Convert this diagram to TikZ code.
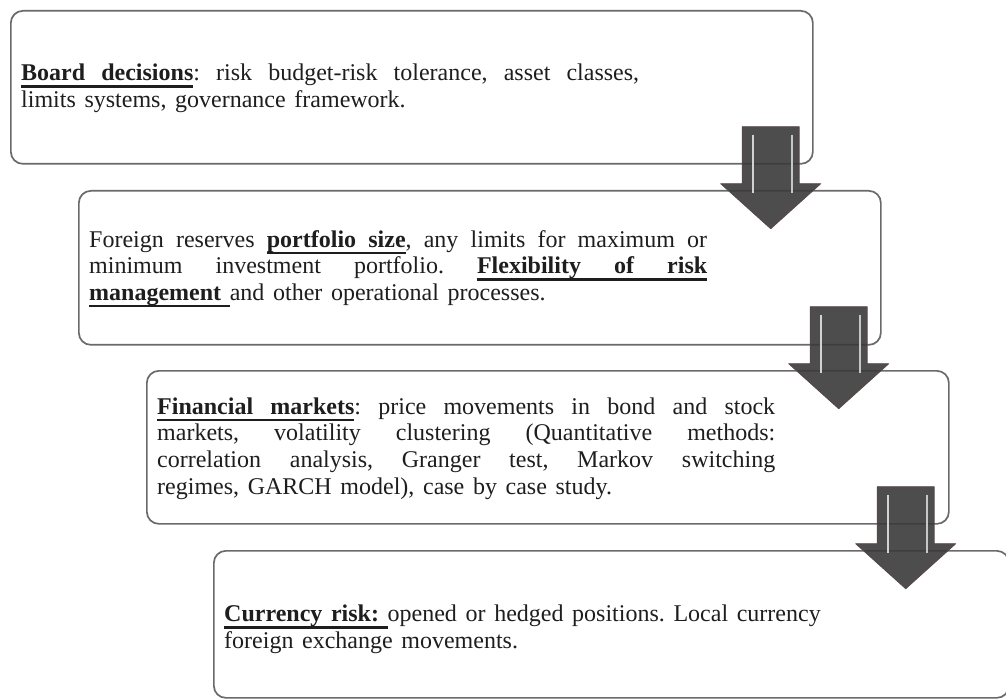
\documentclass[tikz,border=0pt]{standalone}
\usepackage{fontspec}
\setmainfont{Liberation Serif}
\usetikzlibrary{calc}
\definecolor{boxgray}{HTML}{6A6A6A}
\definecolor{arrowdark}{HTML}{3A3A3A}
\definecolor{arrowedge}{HTML}{5A4646}
\definecolor{textdark}{HTML}{1E1E1E}
% underlined word (box) and underlined stretchable space
\newcommand{\ulw}[1]{\setbox0\hbox{#1}\rlap{\rule[-7pt]{\wd0}{2.4pt}}\box0}
\newcommand{\uls}{\leaders\hrule height -4.6pt depth 7pt\hskip\spaceskip\relax}
\newcommand{\bigdownarrow}[1]{%
  \filldraw[fill=arrowdark, draw=arrowedge, line width=0.8pt, fill opacity=0.9, line join=round]
    (#1) ++(-28.5,0) -- ++(57,0) -- ++(0,57) -- ++(21.5,0) -- ++(-50,45) -- ++(-50,-45) -- ++(21.5,0) -- cycle;
  \draw[white!65!gray, line width=2pt] (#1) ++(-18,8) -- ++(0,58);
  \draw[white!55!gray, line width=1.6pt] (#1) ++(21,8) -- ++(0,58);
}
\newcommand{\txtsetup}{\hyphenpenalty=10000\exhyphenpenalty=10000\frenchspacing
  \spaceskip=0.36em plus 0.6em minus 0.06em\relax}
\tikzset{
  panel/.style={draw=boxgray, line width=1.7pt, rounded corners=12pt, fill=white,
    minimum width=802pt, minimum height=153pt, anchor=north west, inner sep=0pt},
  txt/.style={text width=618pt, align=justify, inner sep=0pt, anchor=west,
    font=\fontsize{24}{26.7}\selectfont, text=textdark}
}
\begin{document}
\begin{tikzpicture}[x=1pt, y=-1pt]
\useasboundingbox (0,0) rectangle (1006,700);
\fill[white] (0,0) rectangle (1006,700);
% boxes
\node[panel] (b1) at (10,10) {};
\node[panel, minimum height=154pt] (b2) at (78,190) {};
\node[panel] (b3) at (146,370) {};
\node[panel, minimum height=147pt, minimum width=795pt] (b4) at (213,550) {};
% texts
\node[txt] (t1) at ($(b1.west)+(11,1)$) {\txtsetup
\textbf{\ulw{Board}\uls\ulw{decisions}}: risk budget-risk tolerance, asset classes,\linebreak
limits systems, governance framework.};
\node[txt] (t2) at ($(b2.west)+(11,1)$) {\txtsetup
Foreign reserves \textbf{\ulw{portfolio}\uls\ulw{size}}, any limits for maximum or\linebreak
minimum investment portfolio. \textbf{\ulw{Flexibility}\uls\ulw{of}\uls\ulw{risk}}\linebreak
\textbf{\ulw{management}}\uls and other operational processes.};
\node[txt] (t3) at ($(b3.west)+(11,1)$) {\txtsetup
\textbf{\ulw{Financial}\uls\ulw{markets}}: price movements in bond and stock\linebreak
markets, volatility clustering (Quantitative methods:\linebreak
correlation analysis, Granger test, Markov switching\linebreak
regimes, GARCH model), case by case study.};
\node[txt] (t4) at ($(b4.west)+(11,5)$) {\txtsetup
\textbf{\ulw{Currency}\uls\ulw{risk:}}\uls opened or hedged positions. Local currency\\
foreign exchange movements.};
% arrows between boxes
\coordinate (a1) at ($(b1.south east)+(-43,-38)$);
\coordinate (a2) at ($(b2.south east)+(-43,-39)$);
\coordinate (a3) at ($(b3.south east)+(-44,-38)$);
\bigdownarrow{a1}
\bigdownarrow{a2}
\bigdownarrow{a3}
\end{tikzpicture}
\end{document}
